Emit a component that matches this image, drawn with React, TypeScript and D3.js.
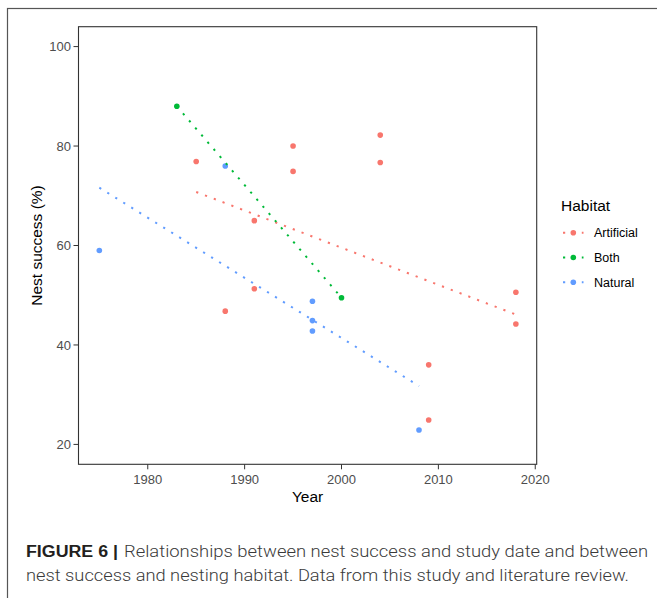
import React from 'react';
import * as d3 from 'd3';

const habitats = ['Artificial', 'Both', 'Natural'];
const colors = ['#F8766D', '#00BA38', '#619CFF'];

const artificialYear = [1985, 1988, 1991, 1991, 1995, 1995, 2004, 2004, 2009, 2009, 2018, 2018];
const artificialNest = [76.9, 46.8, 65.0, 51.3, 80.0, 74.9, 82.2, 76.7, 36.0, 24.9, 50.6, 44.2];
const bothYear = [1983, 2000];
const bothNest = [88.0, 49.5];
const naturalYear = [1975, 1988, 1997, 1997, 1997, 2008];
const naturalNest = [59.0, 76.0, 48.8, 44.9, 42.8, 22.9];

const xTicks = [1980, 1990, 2000, 2010, 2020];
const yTicks = [20, 40, 60, 80, 100];

const series = [
  { name: habitats[0], color: colors[0], years: artificialYear, values: artificialNest },
  { name: habitats[1], color: colors[1], years: bothYear, values: bothNest },
  { name: habitats[2], color: colors[2], years: naturalYear, values: naturalNest },
];

// least squares fit, like geom_smooth(method = "lm")
function fit(xs: number[], ys: number[]) {
  const mx = d3.mean(xs) as number;
  const my = d3.mean(ys) as number;
  let sxy = 0, sxx = 0;
  xs.forEach((x, i) => { sxy += (x - mx) * (ys[i] - my); sxx += (x - mx) * (x - mx); });
  const b = sxy / sxx;
  const [x0, x1] = d3.extent(xs) as [number, number];
  return [[x0, my + b * (x0 - mx)], [x1, my + b * (x1 - mx)]];
}

const W = 657, H = 598;
const left = 78.5, right = 536.7, top = 26.7, bottom = 464.3;

export default function App() {
  const x = d3.scaleLinear().domain([1972.85, 2020.15]).range([left, right]);
  const y = d3.scaleLinear().domain([16, 104]).range([bottom, top]);
  const line = d3.line<number[]>().x(d => x(d[0])).y(d => y(d[1]));
  const font = '"Liberation Sans", Arial, sans-serif';
  const dash = '2.2 7.2';

  return (
    <div style={{ position: 'fixed', left: 0, top: 0 }}>
      <svg width={W} height={H} style={{ display: 'block', background: '#fff' }}>
        <rect x={7.5} y={8.5} width={700} height={650} fill="none" stroke="#555" strokeWidth={1.2} />

        {/* points */}
        {series.map(s => s.years.map((yr, i) => (
          <circle key={s.name + i} cx={x(yr)} cy={y(s.values[i])} r={2.8} fill={s.color} />
        )))}

        {/* fitted lines */}
        {series.map(s => (
          <path key={s.name} d={line(fit(s.years, s.values)) as string} fill="none"
            stroke={s.color} strokeWidth={2} strokeDasharray={dash} />
        ))}

        <rect x={left} y={top} width={right - left} height={bottom - top} fill="none" stroke="#333" strokeWidth={1.1} />

        {/* y axis */}
        {yTicks.map(t => (
          <g key={t}>
            <line x1={left - 5} x2={left} y1={y(t)} y2={y(t)} stroke="#333" strokeWidth={1} />
            <text x={left - 7.5} y={y(t)} dy="0.35em" textAnchor="end" fontFamily={font} fontSize={13} fill="#4D4D4D">{t}</text>
          </g>
        ))}
        {/* x axis */}
        {xTicks.map(t => (
          <g key={t}>
            <line x1={x(t)} x2={x(t)} y1={bottom} y2={bottom + 5} stroke="#333" strokeWidth={1} />
            <text x={x(t)} y={483.5} textAnchor="middle" fontFamily={font} fontSize={13} fill="#4D4D4D">{t}</text>
          </g>
        ))}

        <text x={(left + right) / 2} y={502} textAnchor="middle" fontFamily={font} fontSize={15.5} fill="#000">Year</text>
        <text transform={`translate(42,${(top + bottom) / 2}) rotate(-90)`} textAnchor="middle" fontFamily={font} fontSize={15.5} fill="#000">Nest success (%)</text>

        {/* legend */}
        <text x={561} y={210.5} fontFamily={font} fontSize={15.5} fill="#000">Habitat</text>
        {series.map((s, i) => {
          const ky = 232.7 + i * 24.8;
          return (
            <g key={s.name}>
              <line x1={563} x2={583.5} y1={ky} y2={ky} stroke={s.color} strokeWidth={2} strokeDasharray={dash} />
              <circle cx={573.3} cy={ky} r={2.8} fill={s.color} />
              <text x={594} y={ky} dy="0.36em" fontFamily={font} fontSize={12.5} fill="#000">{s.name}</text>
            </g>
          );
        })}

        {/* caption */}
        <text x={26} y={556.5} fontFamily={font} fontSize={16} fontWeight="bold" fill="#231F20" textLength={92} lengthAdjust="spacingAndGlyphs">FIGURE 6 |</text>
        <text x={124} y={556.5} fontFamily={'Roboto, "Liberation Sans", sans-serif'} fontWeight={300} fontSize={16} fill="#3a3a3a" textLength={524} lengthAdjust="spacingAndGlyphs">Relationships between nest success and study date and between</text>
        <text x={26} y={581} fontFamily={'Roboto, "Liberation Sans", sans-serif'} fontWeight={300} fontSize={16} fill="#3a3a3a" textLength={603} lengthAdjust="spacingAndGlyphs">nest success and nesting habitat. Data from this study and literature review.</text>
      </svg>
    </div>
  );
}
